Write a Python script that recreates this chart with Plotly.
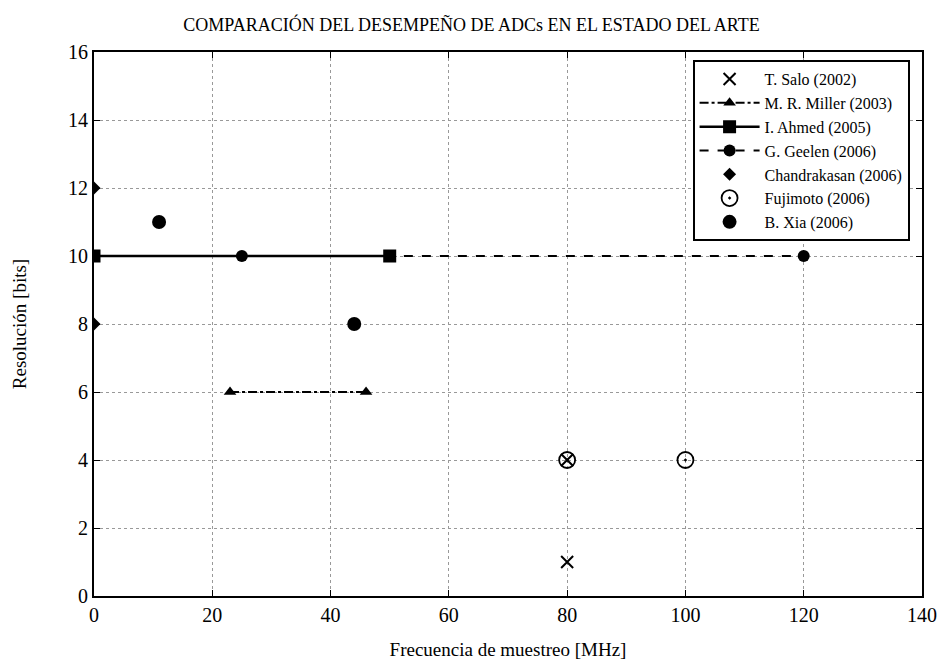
import plotly.graph_objects as go

salo_x = [80, 80]
salo_y = [4, 1]
miller_x = [23, 46]
miller_y = [6, 6]
ahmed_x = [0, 50]
ahmed_y = [10, 10]
geelen_x = [25, 120]
geelen_y = [10, 10]
chandra_x = [0, 0]
chandra_y = [12, 8]
fuji_x = [80, 100]
fuji_y = [4, 4]
xia_x = [11, 44]
xia_y = [11, 8]

x_ticks = [0, 20, 40, 60, 80, 100, 120, 140]
y_ticks = [0, 2, 4, 6, 8, 10, 12, 14, 16]

FONT = "Liberation Serif"

fig = go.Figure()
fig.add_trace(go.Scatter(x=salo_x, y=salo_y, mode="markers", name="T. Salo (2002)",
                         marker=dict(symbol="x-thin-open", size=12, color="black",
                                     line=dict(width=2, color="black"))))
fig.add_trace(go.Scatter(x=miller_x, y=miller_y, mode="lines+markers", name="M. R. Miller (2003)",
                         line=dict(color="black", width=2, dash="dashdot"),
                         marker=dict(symbol="triangle-up", size=11, color="black")))
fig.add_trace(go.Scatter(x=ahmed_x, y=ahmed_y, mode="lines+markers", name="I. Ahmed (2005)",
                         line=dict(color="black", width=2.5),
                         marker=dict(symbol="square", size=13, color="black")))
fig.add_trace(go.Scatter(x=geelen_x, y=geelen_y, mode="lines+markers", name="G. Geelen (2006)",
                         line=dict(color="black", width=2, dash="dash"),
                         marker=dict(symbol="circle", size=12, color="black")))
fig.add_trace(go.Scatter(x=chandra_x, y=chandra_y, mode="markers", name="Chandrakasan (2006)",
                         marker=dict(symbol="diamond", size=10, color="black")))
fig.add_trace(go.Scatter(x=fuji_x, y=fuji_y, mode="markers", name="Fujimoto (2006)",
                         marker=dict(symbol="circle-open-dot", size=16, color="black",
                                     line=dict(width=1.8, color="black"))))
fig.add_trace(go.Scatter(x=xia_x, y=xia_y, mode="markers", name="B. Xia (2006)",
                         marker=dict(symbol="circle", size=14, color="black",
                                     line=dict(width=0))))

axis_common = dict(showline=True, linecolor="black", linewidth=2, mirror="ticks",
                   ticks="inside", ticklen=6, tickcolor="black", automargin=False,
                   showgrid=True, gridcolor="#999999", griddash="dot", gridwidth=1,
                   zeroline=False, tickfont=dict(size=20, color="black", family=FONT))

fig.update_layout(
    width=943, height=662,
    margin=dict(l=94, r=21, t=52, b=66),
    paper_bgcolor="white", plot_bgcolor="white",
    font=dict(family=FONT, color="black", size=19),
    title=dict(text="COMPARACIÓN DEL DESEMPEÑO DE ADCs EN EL ESTADO DEL ARTE",
               x=0.5, xanchor="center", y=0.963, yanchor="middle",
               font=dict(size=18, family=FONT, color="black")),
    xaxis=dict(range=[0, 140], tickvals=x_ticks, title=dict(text="Frecuencia de muestreo [MHz]",
               font=dict(size=19, family=FONT, color="black"), standoff=18), **axis_common),
    yaxis=dict(range=[0, 16], tickvals=y_ticks, title=dict(text="Resolución [bits]",
               font=dict(size=19, family=FONT, color="black"), standoff=36), **axis_common),
    legend=dict(x=0.985, y=0.985, xanchor="right", yanchor="top",
                bgcolor="white", bordercolor="black", borderwidth=2,
                font=dict(size=16, family=FONT, color="black"),
                tracegroupgap=0, itemwidth=60),
    showlegend=True,
)

fig.write_html("out.html")
